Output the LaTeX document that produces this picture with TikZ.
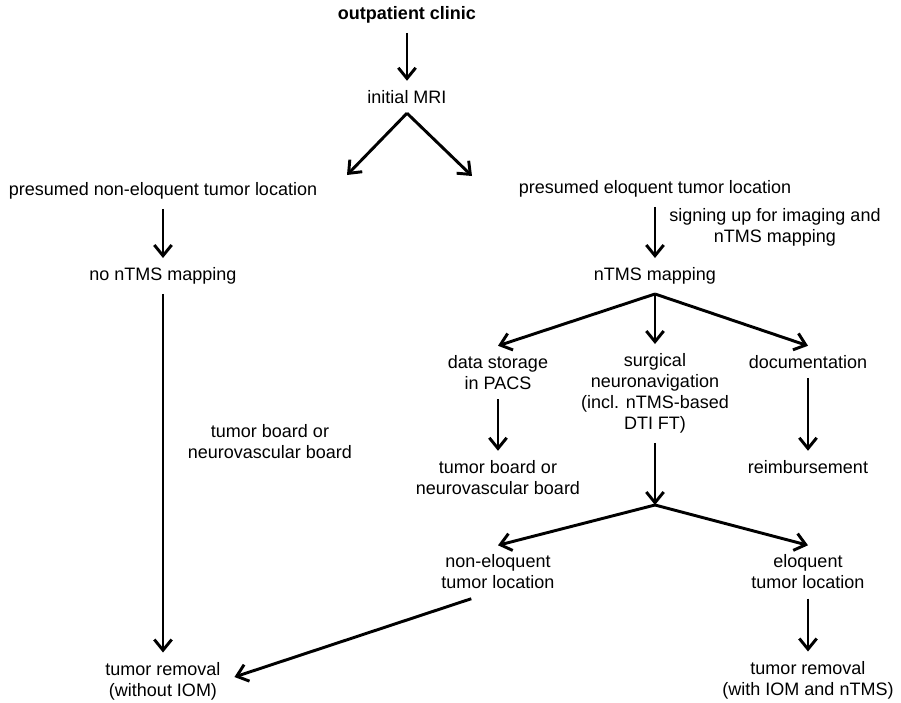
\documentclass[tikz,border=0pt]{standalone}
\usepackage{fontspec}
\setmainfont{Liberation Sans}
\usepackage{tikz}
\usetikzlibrary{arrows.meta,positioning}
\usetikzlibrary{calc}

\begin{document}
\begin{tikzpicture}[
  x=0.75pt, y=-0.75pt,
  txt/.style={align=center, inner xsep=2pt, inner ysep=7pt, font=\fontsize{13.5}{15.75}\selectfont},
  arr/.style={-{Straight Barb[length=8pt,width=13pt]}, line width=2.2pt}
]
  \useasboundingbox (0,0) rectangle (901,703);

  % top
  \node[txt, font=\fontsize{13.5}{15.75}\selectfont\bfseries] (clinic) at (407,15) {outpatient clinic};
  \node[txt] (mri) at (407,97) {initial MRI};

  % left branch
  \node[txt] (pne) at (163,191) {presumed non-eloquent tumor location};
  \node[txt] (nomap) at (163,276) {no nTMS mapping};
  \node[txt] (boardl) at (270,442) {tumor board or\\neurovascular board};
  \node[txt] (trwo) at (163,681) {tumor removal\\(without IOM)};

  % right branch
  \node[txt] (pe) at (655,189) {presumed eloquent tumor location};
  \node[txt] (signup) at (775,227.5) {signing up for imaging and\\nTMS mapping};
  \node[txt] (ntms) at (655,276) {nTMS mapping};

  % 3 columns
  \node[txt] (store) at (498,372.5) {data storage\\in PACS};
  \node[txt] (surg) at (655,393.5) {surgical\\neuronavigation\\(incl. nTMS-based\\DTI FT)};
  \node[txt] (doc) at (808,362) {documentation};
  \node[txt] (boardm) at (498,477.5) {tumor board or\\neurovascular board};
  \node[txt] (reimb) at (808,467) {reimbursement};

  % bottom
  \node[txt] (neloq) at (498,572) {non-eloquent\\tumor location};
  \node[txt] (eloq) at (808,572) {eloquent\\tumor location};
  \node[txt] (trwi) at (808,680) {tumor removal\\(with IOM and nTMS)};

  \coordinate (mrileft) at (347,175);
  \coordinate (mriright) at (472,176);
  \coordinate (fork) at (655,505);

  \draw[arr] (clinic) -- (mri);
  \draw[arr] (mri.south) -- (mrileft);
  \draw[arr] (mri.south) -- (mriright);

  \draw[arr] (pne) -- (nomap);
  \draw[arr] (nomap) -- (trwo);

  \draw[arr] (pe) -- (ntms);
  \draw[arr] (ntms.south) -- (store.north);
  \draw[arr] (ntms.south) -- (surg.north);
  \draw[arr] (ntms.south) -- (doc.north);

  \draw[arr] (store) -- (boardm);
  \draw[arr] (doc) -- (reimb);

  \draw[arr] (surg.south) -- (fork);
  \draw[arr] (fork) -- (neloq.north);
  \draw[arr] (fork) -- (eloq.north);

  \draw[arr] (eloq) -- (trwi);
  \draw[arr] (neloq.225) -- ($(trwo.east)+(11,-4)$);
\end{tikzpicture}
\end{document}
